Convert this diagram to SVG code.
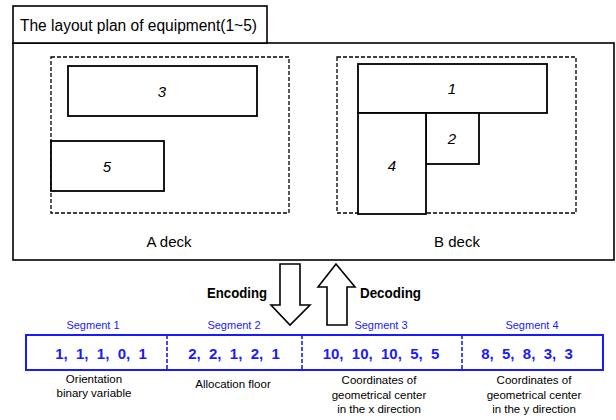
<svg xmlns="http://www.w3.org/2000/svg" width="616" height="420" viewBox="0 0 616 420">
<style>
text{font-family:"Liberation Sans",Arial,sans-serif;}
.box{fill:#fff;stroke:#000;stroke-width:1.6;}
.dash{fill:none;stroke:#000;stroke-width:1.3;stroke-dasharray:4,2;}
.eq{fill:#fff;stroke:#000;stroke-width:1.8;}
.num{font-size:15px;font-style:italic;text-anchor:middle;}
.deck{font-size:15px;text-anchor:middle;}
.arrow{fill:#fff;stroke:#000;stroke-width:1.6;}
.code{font-size:15px;font-weight:bold;}
.seg{font-size:11px;fill:#1a1aff;text-anchor:middle;}
.val{font-size:15px;fill:#1a1aff;font-weight:bold;text-anchor:middle;white-space:pre;}
.desc{font-size:11.5px;text-anchor:middle;}
.bar{fill:#fff;stroke:#1a1aff;stroke-width:2;}
.div{stroke:#1a1aff;stroke-width:1.6;stroke-dasharray:4,2;}
</style>
<g id="plan">
<rect class="box" x="13" y="43" width="601" height="217"/>
<rect class="box" x="13" y="6" width="254" height="37"/>
<text x="20" y="31" font-size="16" textLength="237" lengthAdjust="spacingAndGlyphs">The layout plan of equipment(1~5)</text>
</g>
<g id="a-deck">
<rect class="dash" x="51" y="57" width="238" height="156"/>
<text class="deck" x="169" y="247">A deck</text>
</g>
<g id="eq3"><rect class="eq" x="68" y="66" width="189" height="50"/><text class="num" x="162" y="97">3</text></g>
<g id="eq5"><rect class="eq" x="51" y="141" width="113" height="50"/><text class="num" x="107" y="172">5</text></g>
<g id="b-deck">
<rect class="dash" x="337" y="57" width="239" height="156"/>
<text class="deck" x="457" y="247">B deck</text>
</g>
<g id="eq1"><rect class="eq" x="358" y="64" width="189" height="49"/><text class="num" x="452" y="94">1</text></g>
<g id="eq2"><rect class="eq" x="426" y="113" width="53" height="51"/><text class="num" x="452" y="144">2</text></g>
<g id="eq4"><rect class="eq" x="358" y="113" width="68" height="101"/><text class="num" x="392" y="171">4</text></g>
<g id="connectors">
<polygon class="arrow" points="280,264 300,264 300,305 310,305 290,325 271,305 280,305"/>
<polygon class="arrow" points="327,325 347,325 347,287 355,287 336,264 318,287 327,287"/>
</g>
<text class="code" x="207" y="298" textLength="60" lengthAdjust="spacingAndGlyphs">Encoding</text>
<text class="code" x="360" y="298" textLength="61" lengthAdjust="spacingAndGlyphs">Decoding</text>
<g id="chromosome">
<rect class="bar" x="26" y="335" width="577" height="35"/>
<line class="div" x1="167" y1="335" x2="167" y2="370"/>
<line class="div" x1="302" y1="335" x2="302" y2="370"/>
<line class="div" x1="462" y1="335" x2="462" y2="370"/>
<text class="seg" x="93" y="329">Segment 1</text>
<text class="seg" x="234" y="329">Segment 2</text>
<text class="seg" x="381" y="329">Segment 3</text>
<text class="seg" x="532" y="329">Segment 4</text>
<text class="val" x="101" y="359">1,  1,  1,  0,  1</text>
<text class="val" x="234" y="359">2,  2,  1,  2,  1</text>
<text class="val" x="381" y="359">10,  10,  10,  5,  5</text>
<text class="val" x="527" y="359">8,  5,  8,  3,  3</text>
<text class="desc" x="94" y="383">Orientation</text>
<text class="desc" x="94" y="397">binary variable</text>
<text class="desc" x="233" y="388">Allocation floor</text>
<text class="desc" x="379" y="384">Coordinates of</text>
<text class="desc" x="379" y="399">geometrical center</text>
<text class="desc" x="379" y="413">in the x direction</text>
<text class="desc" x="534" y="384">Coordinates of</text>
<text class="desc" x="534" y="399">geometrical center</text>
<text class="desc" x="534" y="413">in the y direction</text>
</g>
</svg>
